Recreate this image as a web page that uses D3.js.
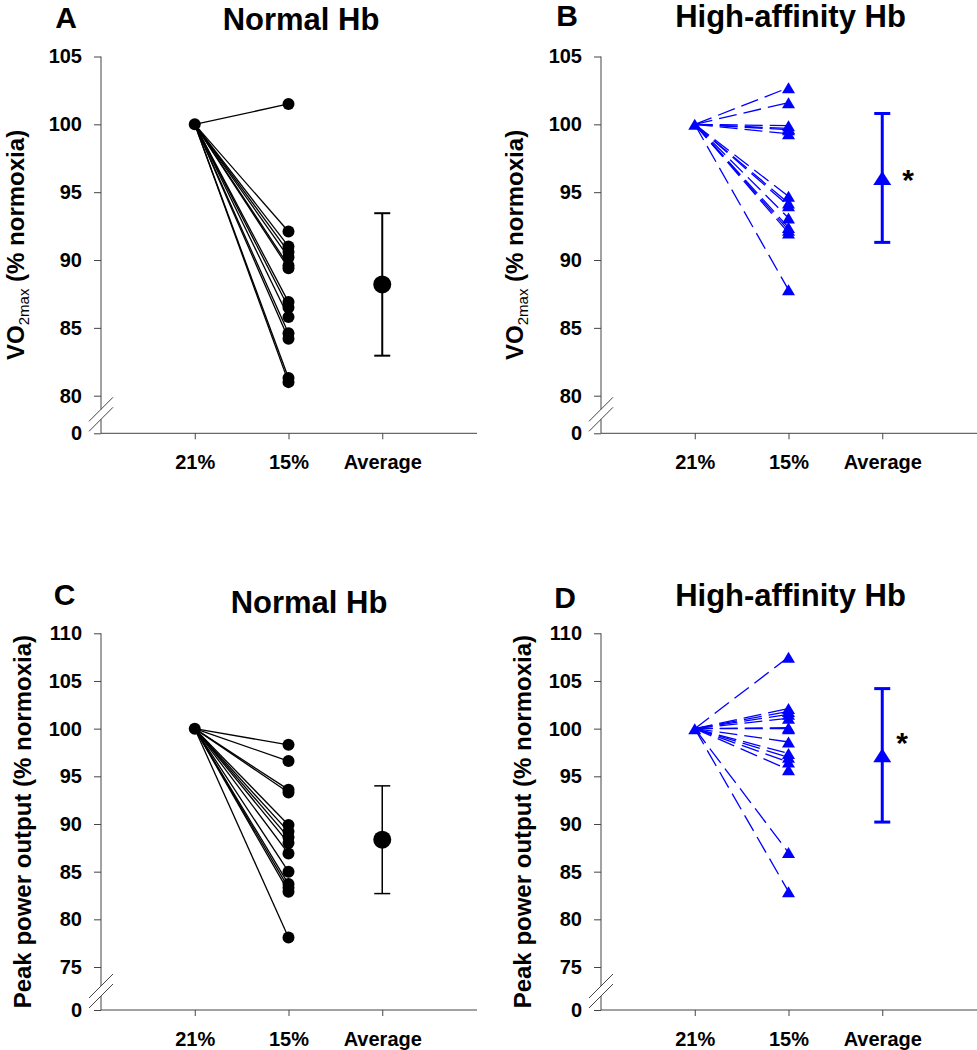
<!DOCTYPE html>
<html>
<head>
<meta charset="utf-8">
<script src="https://cdn.jsdelivr.net/npm/d3@7"></script>
<style>
  html, body { margin: 0; padding: 0; background: #fff; }
  svg { display: block; font-family: "Liberation Sans", Arial, sans-serif; }
</style>
</head>
<body>
<svg id="chart" width="977" height="1050"></svg>
<script>
// ---------------- DATA ----------------
const categories = ["21%", "15%", "Average"];
const vo2Ticks = [0, 80, 85, 90, 95, 100, 105];
const powerTicks = [0, 75, 80, 85, 90, 95, 100, 105, 110];
const baseline21 = 100;

// VO2max at 15% O2 (% of normoxia), per subject
const normalVO2 = [101.5, 92.1, 91.0, 90.6, 90.2, 89.6, 89.4, 86.9, 86.5, 85.8, 84.6, 84.2, 81.3, 81.0];
const highVO2 = [102.7, 101.6, 99.9, 99.7, 99.6, 99.3, 94.7, 94.2, 94.0, 93.1, 92.4, 92.2, 92.0, 87.8];
// Peak power output at 15% O2 (% of normoxia), per subject
const normalPower = [98.3, 96.6, 93.6, 93.3, 89.9, 89.2, 88.6, 88.0, 86.9, 85.0, 83.7, 83.3, 82.9, 78.1];
const highPower = [107.5, 102.1, 101.8, 101.5, 101.1, 100.1, 100.0, 98.6, 97.4, 97.0, 96.5, 95.7, 87.0, 82.9];

// Averages (mean, SD) for panels A, B, C, D
const avgMeans = [88.2, 96.05, 88.35, 97.2];
const avgSD = [5.25, 4.75, 5.65, 7.0];
const significant = [false, true, false, true];

const panelLetters = ["A", "B", "C", "D"];
const panelTitles = ["Normal Hb", "High-affinity Hb", "Normal Hb", "High-affinity Hb"];

// ---------------- LAYOUT ----------------
const layouts = [
  {x0: 101, yTop: 56.5, yBreak: 395.7, yZero: 433.3, letter: [66, 28], title: [301, 30], labelDx: 77, star: [908, 190]},
  {x0: 601, yTop: 56.5, yBreak: 395.7, yZero: 433.3, letter: [567, 26], title: [790.5, 27], labelDx: 78, star: [908, 190]},
  {x0: 101, yTop: 633.3, yBreak: 967, yZero: 1010, letter: [64.5, 605], title: [309, 613], labelDx: 70, star: [902, 753]},
  {x0: 601, yTop: 633.3, yBreak: 967, yZero: 1010, letter: [565, 608], title: [790.5, 606], labelDx: 70, star: [902, 753]}
];

const panelData = [normalVO2, highVO2, normalPower, highPower];
const panelTicks = [vo2Ticks, vo2Ticks, powerTicks, powerTicks];
const isHigh = [false, true, false, true];
const isVO2 = [true, true, false, false];

const svg = d3.select("#chart");
const axisColor = "#444";

function trianglePath(w, h) {
  return `M0,${-h/2} L${w/2},${h/2} L${-w/2},${h/2} Z`;
}

layouts.forEach((L, i) => {
  const g = svg.append("g");
  const ticks = panelTicks[i];
  const lowTick = ticks[1], highTick = ticks[ticks.length - 1];
  const y = d3.scaleLinear().domain([0, lowTick, highTick]).range([L.yZero, L.yBreak, L.yTop]);
  const x = d3.scalePoint().domain(categories).range([L.x0, L.x0 + 375]).padding(1);
  const color = isHigh[i] ? "#0000ff" : "#000";

  // Y axis
  const yAxis = d3.axisLeft(y).tickValues(ticks).tickSize(7).tickPadding(12).tickFormat(d3.format("d"));
  const ya = g.append("g").attr("transform", `translate(${L.x0},0)`).call(yAxis);
  ya.select(".domain").remove();
  ya.selectAll(".tick line").attr("stroke", axisColor).attr("stroke-width", 1);
  ya.selectAll(".tick text").attr("font-size", 20).attr("font-weight", "bold").attr("fill", "#000")
    .attr("font-family", "Liberation Sans, Arial, sans-serif");

  // Y axis line with break
  const b1 = L.yZero - 24, b2 = L.yZero - 14;
  g.append("line").attr("x1", L.x0).attr("x2", L.x0).attr("y1", L.yTop).attr("y2", b1)
    .attr("stroke", axisColor).attr("stroke-width", 1);
  g.append("line").attr("x1", L.x0).attr("x2", L.x0).attr("y1", b2).attr("y2", L.yZero)
    .attr("stroke", axisColor).attr("stroke-width", 1);
  [b1, b2].forEach(bc => {
    g.append("line").attr("x1", L.x0 - 12).attr("y1", bc + 12).attr("x2", L.x0 + 12).attr("y2", bc - 12)
      .attr("stroke", axisColor).attr("stroke-width", 1);
  });

  // X axis
  const xAxis = d3.axisBottom(x).tickSize(6).tickPadding(16);
  const xa = g.append("g").attr("transform", `translate(0,${L.yZero})`).call(xAxis);
  xa.select(".domain").remove();
  g.append("line").attr("x1", L.x0).attr("x2", L.x0 + 376).attr("y1", L.yZero).attr("y2", L.yZero)
    .attr("stroke", axisColor).attr("stroke-width", 1);
  xa.selectAll(".tick line").attr("stroke", axisColor).attr("stroke-width", 1);
  xa.selectAll(".tick text").attr("font-size", 20).attr("font-weight", "bold").attr("fill", "#000")
    .attr("font-family", "Liberation Sans, Arial, sans-serif").attr("dy", "0.71em");

  // Y label
  const lx = L.x0 - L.labelDx, ly = (L.yTop + L.yZero) / 2;
  const lt = g.append("text").attr("transform", `translate(${lx},${ly}) rotate(-90)`)
    .attr("text-anchor", "middle").attr("font-size", 24).attr("font-weight", "bold").attr("fill", "#000");
  if (isVO2[i]) {
    lt.append("tspan").text("VO");
    lt.append("tspan").attr("font-size", 15).attr("font-weight", "normal").attr("dy", 5).text("2max");
    lt.append("tspan").attr("dy", -5).text(" (% normoxia)");
  } else {
    lt.text("Peak power output (% normoxia)");
  }

  // Letter and title
  g.append("text").attr("x", L.letter[0]).attr("y", L.letter[1]).attr("text-anchor", "middle")
    .attr("font-size", 30).attr("font-weight", "bold").text(panelLetters[i]);
  g.append("text").attr("x", L.title[0]).attr("y", L.title[1]).attr("text-anchor", "middle")
    .attr("font-size", 31).attr("font-weight", "bold").text(panelTitles[i]);

  // Lines from 21% to 15%
  const vals = panelData[i];
  g.selectAll(".subj").data(vals).enter().append("line")
    .attr("x1", x("21%")).attr("y1", y(baseline21))
    .attr("x2", x("15%")).attr("y2", d => y(d))
    .attr("stroke", color).attr("stroke-width", isHigh[i] ? 1.3 : 1.3)
    .attr("stroke-dasharray", isHigh[i] ? "18,7" : null);

  // Markers
  const pts = [{c: "21%", v: baseline21}].concat(vals.map(v => ({c: "15%", v})));
  if (isHigh[i]) {
    g.selectAll(".m").data(pts).enter().append("path")
      .attr("d", trianglePath(13, 11))
      .attr("transform", d => `translate(${x(d.c)},${y(d.v)})`)
      .attr("fill", color);
  } else {
    g.selectAll(".m").data(pts).enter().append("circle")
      .attr("cx", d => x(d.c)).attr("cy", d => y(d.v)).attr("r", 6).attr("fill", color);
  }

  // Average with SD
  const ax = x("Average");
  const m = avgMeans[i], sd = avgSD[i];
  const ew = isHigh[i] ? 3 : (isVO2[i] ? 2 : 1.5);
  g.append("line").attr("x1", ax).attr("x2", ax).attr("y1", y(m + sd)).attr("y2", y(m - sd))
    .attr("stroke", color).attr("stroke-width", ew);
  [m + sd, m - sd].forEach(v => {
    g.append("line").attr("x1", ax - 8).attr("x2", ax + 8).attr("y1", y(v)).attr("y2", y(v))
      .attr("stroke", color).attr("stroke-width", ew);
  });
  if (isHigh[i]) {
    g.append("path").attr("d", trianglePath(18, 14))
      .attr("transform", `translate(${ax},${y(m)})`).attr("fill", color);
  } else {
    g.append("circle").attr("cx", ax).attr("cy", y(m)).attr("r", 9).attr("fill", color);
  }
  if (significant[i]) {
    g.append("text").attr("x", L.star[0]).attr("y", L.star[1]).attr("text-anchor", "middle")
      .attr("font-size", 30).attr("font-weight", "bold").text("*");
  }
});
</script>
</body>
</html>
